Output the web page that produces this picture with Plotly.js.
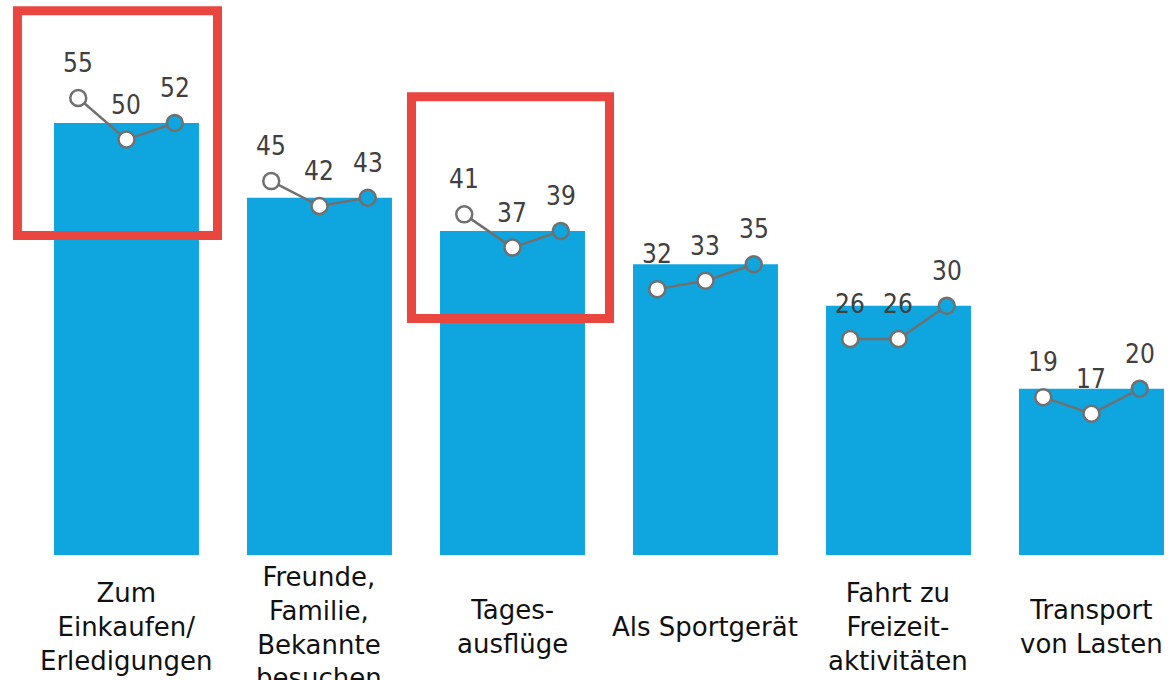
<!DOCTYPE html>
<html>
<head>
<meta charset="utf-8">
<script src="https://cdn.plot.ly/plotly-3.0.1.min.js"></script>
<style>
  html, body { margin: 0; padding: 0; background: #fff; }
  #chart { width: 1171px; height: 680px; }
</style>
</head>
<body>
<div id="chart"></div>
<script>
/* --- data --- */
const categories = [
  'Zum<br>Einkaufen/<br>Erledigungen',
  'Freunde,<br>Familie,<br>Bekannte<br>besuchen',
  'Tages-<br>ausflüge',
  'Als Sportgerät',
  'Fahrt zu<br>Freizeit-<br>aktivitäten',
  'Transport<br>von Lasten',
];
const wave1 = [55, 45, 41, 32, 26, 19];
const wave2 = [50, 42, 37, 33, 26, 17];
const wave3 = [52, 43, 39, 35, 30, 20];   // current value = bar height

const COLORS = {
  bar:   '#0fa5df',
  line:  '#707070',
  text:  '#404040',
  label: '#111111',
  box:   '#e8463f',
};

const idx = categories.map((_, i) => i);
const OFFSET = 0.25;

/* --- connected points, one segment per category --- */
const px = [], py = [], pColor = [];
idx.forEach(i => {
  [wave1[i], wave2[i], wave3[i]].forEach((v, k) => {
    px.push(i + (k - 1) * OFFSET);
    py.push(v);
    pColor.push(k === 2 ? COLORS.bar : '#ffffff');
  });
  px.push(null); py.push(null); pColor.push('#ffffff');
});

const bars = {
  x: idx, y: wave3,
  type: 'bar',
  width: 0.751,
  marker: { color: COLORS.bar },
  hoverinfo: 'skip',
};

const points = {
  x: px, y: py,
  type: 'scatter',
  mode: 'lines+markers',
  connectgaps: false,
  line: { color: COLORS.line, width: 2.5 },
  marker: { size: 16, color: pColor, line: { color: COLORS.line, width: 2.5 } },
  hoverinfo: 'skip',
};

/* --- value labels above each point --- */
const annotations = [];
idx.forEach(i => {
  [wave1[i], wave2[i], wave3[i]].forEach((v, k) => {
    annotations.push({
      x: i + (k - 1) * OFFSET, y: v, xref: 'x', yref: 'y',
      text: String(v), showarrow: false,
      yanchor: 'middle', yshift: 35,
      font: { family: '"Liberation Sans Narrow", "DejaVu Sans Condensed", sans-serif', size: 26, color: COLORS.text },
    });
  });
});

/* category labels, vertically centred under the bars */
categories.forEach((c, i) => {
  annotations.push({
    x: i, y: -0.13, xref: 'x', yref: 'paper',
    text: c, showarrow: false,
    yanchor: 'middle', align: 'center',
    font: { family: '"DejaVu Sans", sans-serif', size: 26, color: COLORS.label },
  });
});

/* highlight boxes */
const boxLine = { color: COLORS.box, width: 9 };
const shapes = [
  { type: 'rect', xref: 'x', yref: 'y', x0: -0.565, x1: 0.4715, y0: 38.45, y1: 65.52, line: boxLine },
  { type: 'rect', xref: 'x', yref: 'y', x0: 1.4767, x1: 2.5026, y0: 28.46, y1: 55.17, line: boxLine },
];

const layout = {
  width: 1171, height: 680,
  margin: { t: 0, r: 0, b: 125, l: 0 },
  paper_bgcolor: '#ffffff',
  plot_bgcolor: '#ffffff',
  showlegend: false,
  hovermode: false,
  xaxis: { range: [-0.6554, 5.412], showgrid: false, zeroline: false, showticklabels: false, showline: false, fixedrange: true },
  yaxis: { range: [0, 66.8], showgrid: false, zeroline: false, showticklabels: false, showline: false, fixedrange: true },
  annotations: annotations,
  shapes: shapes,
};

Plotly.newPlot('chart', [bars, points], layout, { displayModeBar: false, staticPlot: true });
</script>
</body>
</html>
